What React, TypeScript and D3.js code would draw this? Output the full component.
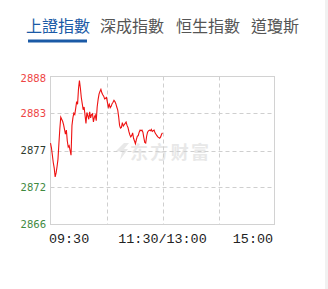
import React from "react";
import * as d3 from "d3";

// Index tabs
const tabs = ["上證指數", "深成指數", "恒生指數", "道瓊斯"];
const activeTab = 0;

// Session axis labels (minutes since 09:30 over a 240-minute trading day)
const timeTicks = [0, 120, 240];
const timeLabels = ["09:30", "11:30/13:00", "15:00"];

// Price axis: previous close in the middle, symmetric range
const prevClose = 2877.2;
const halfRange = 10.9;

// Morning session minute prices, 09:30 to 11:30
const prices = [
  2878.3, 2877.6, 2876.5, 2875.4, 2874.6, 2873.3, 2873.9, 2874.8, 2875.9, 2878.2,
  2880.4, 2882.1, 2881.8, 2881.5, 2881.0, 2880.3, 2879.6, 2880.2, 2878.6, 2877.7,
  2877.9, 2877.2, 2876.5, 2880.9, 2882.0, 2882.7, 2882.5, 2883.4, 2884.4, 2884.0,
  2886.3, 2887.5, 2886.4, 2885.0, 2884.1, 2883.2, 2883.6, 2882.4, 2881.2, 2882.8,
  2882.3, 2881.8, 2882.9, 2882.0, 2882.5, 2882.6, 2881.4, 2882.1, 2882.4, 2881.6,
  2883.6, 2884.7, 2885.5, 2885.9, 2886.2, 2885.7, 2885.4, 2885.2, 2884.8, 2884.9,
  2885.0, 2884.3, 2883.6, 2884.0, 2883.5, 2883.7, 2884.1, 2884.3, 2884.6, 2884.4,
  2884.1, 2883.6, 2883.2, 2882.2, 2880.9, 2880.5, 2880.6, 2881.3, 2880.8, 2881.0,
  2881.2, 2881.4, 2880.9, 2880.6, 2880.0, 2879.5, 2879.2, 2879.4, 2879.8, 2879.0,
  2878.6, 2878.2, 2878.8, 2879.3, 2879.4, 2879.9, 2880.2, 2880.1, 2880.2, 2879.9,
  2879.1, 2878.4, 2878.3, 2879.3, 2879.9, 2880.1, 2880.2, 2880.1, 2880.3, 2880.0,
  2880.1, 2880.2, 2879.8, 2879.6, 2879.4, 2879.2, 2879.1, 2879.0, 2879.2, 2879.6,
  2879.8,
];

const W = 328;
const H = 289;
const plot = { left: 50.5, right: 274.5, top: 76.5, bottom: 224.5 };

export default function App() {
  const x = d3.scaleLinear().domain([0, 240]).range([plot.left, plot.right]);
  const y = d3
    .scaleLinear()
    .domain([prevClose - halfRange, prevClose + halfRange])
    .range([plot.bottom, plot.top]);

  const yTicks = d3.range(5).map((i) => prevClose + halfRange - (i * halfRange) / 2);
  const fmt = d3.format(".0f");
  const tickColor = (v: number) =>
    Math.abs(v - prevClose) < 1e-6 ? "#2d3a2d" : v > prevClose ? "#ee4444" : "#3f8a3f";

  const line = d3
    .line<number>()
    .x((_, i) => x(i))
    .y((d) => y(d));

  const vGrid = [60, 120, 180];

  // tab layout
  const tabX = [26, 100, 176, 251];

  return (
    <svg
      width={W}
      height={H}
      style={{ position: "fixed", left: 0, top: 0, background: "#fff" }}
    >
      <rect x={325} y={0} width={3} height={H} fill="#f1f1f1" />

      {tabs.map((t, i) => (
        <text
          key={t}
          x={tabX[i]}
          y={31.5}
          fontFamily="'Noto Sans CJK TC', 'Noto Sans CJK SC', sans-serif"
          fontSize={16}
          fill={i === activeTab ? "#1a5aa6" : "#555"}
        >
          {t}
        </text>
      ))}
      <rect x={28} y={39.5} width={59} height={3} fill="#1a5aa6" />

      {/* watermark */}
      <g fill="#e8e8e8">
        <path d="M116,151 L124,143 L129,143 L124,149 L128,149 L120,160 L122,152 Z" />
        <text
          x={130}
          y={159}
          fontFamily="'Noto Sans CJK SC', sans-serif"
          fontWeight={700}
          fontSize={18}
          textLength={79}
        >
          东方财富
        </text>
      </g>

      {/* grid */}
      {yTicks.slice(1, 4).map((v, i) => (
        <line
          key={"h" + i}
          x1={plot.left}
          x2={plot.right}
          y1={Math.round(y(v)) + 0.5}
          y2={Math.round(y(v)) + 0.5}
          stroke="#cfcfcf"
          strokeDasharray="4,3"
        />
      ))}
      {vGrid.map((m) => (
        <line
          key={"v" + m}
          x1={Math.round(x(m)) + 0.5}
          x2={Math.round(x(m)) + 0.5}
          y1={plot.top}
          y2={plot.bottom}
          stroke="#cfcfcf"
          strokeDasharray="4,3"
        />
      ))}
      <rect
        x={plot.left}
        y={plot.top}
        width={plot.right - plot.left}
        height={plot.bottom - plot.top}
        fill="none"
        stroke="#d2d2d2"
      />

      {/* price line */}
      <path d={line(prices) || ""} fill="none" stroke="#ee1111" strokeWidth={1.1} />

      {/* price labels */}
      {yTicks.map((v, i) => (
        <text
          key={"yl" + i}
          x={46}
          y={y(v) + (i === 0 ? 2 : 0)}
          textAnchor="end"
          dominantBaseline="central"
          fontFamily="'DejaVu Sans', sans-serif"
          fontSize={10}
          fill={tickColor(v)}
        >
          {fmt(v)}
        </text>
      ))}

      {/* time labels */}
      {timeTicks.map((m, i) => (
        <text
          key={"xl" + i}
          x={i === 0 ? x(m) - 1.5 : i === timeTicks.length - 1 ? x(m) - 1.5 : x(m)}
          y={242.5}
          textAnchor={i === 0 ? "start" : i === timeTicks.length - 1 ? "end" : "middle"}
          fontFamily="'Liberation Mono', monospace"
          fontSize={13.4}
          fill="#222"
        >
          {timeLabels[i]}
        </text>
      ))}
    </svg>
  );
}
